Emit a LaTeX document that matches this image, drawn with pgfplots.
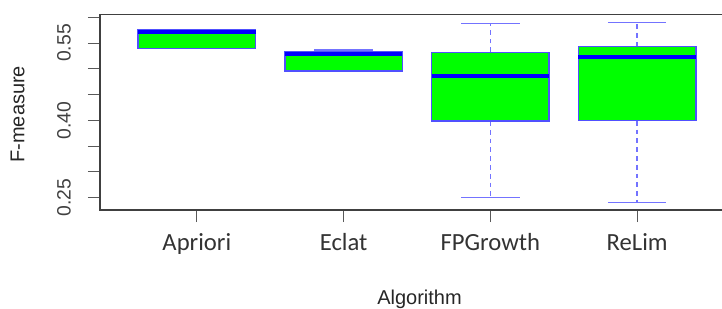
\documentclass[border=0pt]{standalone}
\usepackage{pgfplots}
\pgfplotsset{compat=1.18}
\usepgfplotslibrary{statistics}
\usepackage{fontspec}
\setmainfont{Liberation Sans}
\newfontfamily\carlito{Carlito}
\definecolor{boxgreen}{RGB}{0,255,0}
\definecolor{boxblue}{RGB}{80,80,255}
\definecolor{whiskblue}{RGB}{115,115,255}
\definecolor{medblue}{RGB}{0,0,255}
\pgfplotsset{
  boxplot/box extend=0.8,
  boxplot/whisker extend=0,
  boxplot/draw direction=y,
  boxplot/every box/.style={fill=boxgreen, draw=boxblue, line width=1pt},
  boxplot/every median/.style={draw=medblue, line width=3pt},
  boxplot/every whisker/.style={draw=whiskblue, line width=1.1pt, dash pattern=on 3.6pt off 3pt},
  cap/.style={draw=whiskblue, line width=1.1pt, solid, mark=none},
}
\begin{document}
\begin{tikzpicture}
\useasboundingbox (0,0) rectangle (541.5pt,231pt);
\begin{axis}[
  at={(75pt,73.5pt)}, anchor=south west,
  scale only axis, width=475.5pt, height=146.5pt,
  xmin=0.34, xmax=4.66, ymin=0.226, ymax=0.605,
  xtick={1,2,3,4}, xticklabels={Apriori,Eclat,FPGrowth,ReLim},
  ytick={0.25,0.30,0.35,0.40,0.45,0.50,0.55,0.60},
  yticklabels={0.25,,,0.40,,,0.55,},
  tick pos=left,
  tick align=outside, major tick length=9pt,
  tick style={black!65, line width=0.75pt},
  axis line style={black!75, line width=0.9pt},
  yticklabel style={rotate=90, anchor=center, font=\fontsize{14.5}{16}\selectfont, text=black!75},
  yticklabel shift=18pt,
  xticklabel style={anchor=base, font=\carlito\fontsize{18.5}{20}\selectfont, text=black!80},
  xticklabel shift=21pt,
  xlabel={Algorithm}, ylabel={F-measure},
  xlabel style={at={(axis description cs:0.504,0)}, anchor=base, yshift=-70.5pt, font=\fontsize{15}{17}\selectfont, text=black!85},
  ylabel style={at={(axis description cs:-0.130,0.49)}, anchor=center, font=\fontsize{15}{17}\selectfont, text=black!85},
]
% Apriori
\addplot[draw=boxblue, boxplot prepared={draw position=1, lower whisker=0.5394, lower quartile=0.5394, median=0.5705, upper quartile=0.5753, upper whisker=0.5753}] coordinates {};
% Eclat
\addplot[draw=boxblue, boxplot prepared={draw position=2, lower whisker=0.4957, lower quartile=0.4957, median=0.5283, upper quartile=0.5332, upper whisker=0.5365}] coordinates {};
% FPGrowth
\addplot[draw=boxblue, boxplot prepared={draw position=3, lower whisker=0.2506, lower quartile=0.3987, median=0.4860, upper quartile=0.5320, upper whisker=0.5883}] coordinates {};
% ReLim
\addplot[draw=boxblue, boxplot prepared={draw position=4, lower whisker=0.2409, lower quartile=0.3992, median=0.5229, upper quartile=0.5429, upper whisker=0.5902}] coordinates {};
% whisker caps (half the box width)
\addplot[cap] coordinates {(1.8,0.5365) (2.2,0.5365)};
\addplot[cap] coordinates {(2.8,0.2506) (3.2,0.2506)};
\addplot[cap] coordinates {(2.8,0.5883) (3.2,0.5883)};
\addplot[cap] coordinates {(3.8,0.2409) (4.2,0.2409)};
\addplot[cap] coordinates {(3.8,0.5902) (4.2,0.5902)};
\end{axis}
\end{tikzpicture}
\end{document}
